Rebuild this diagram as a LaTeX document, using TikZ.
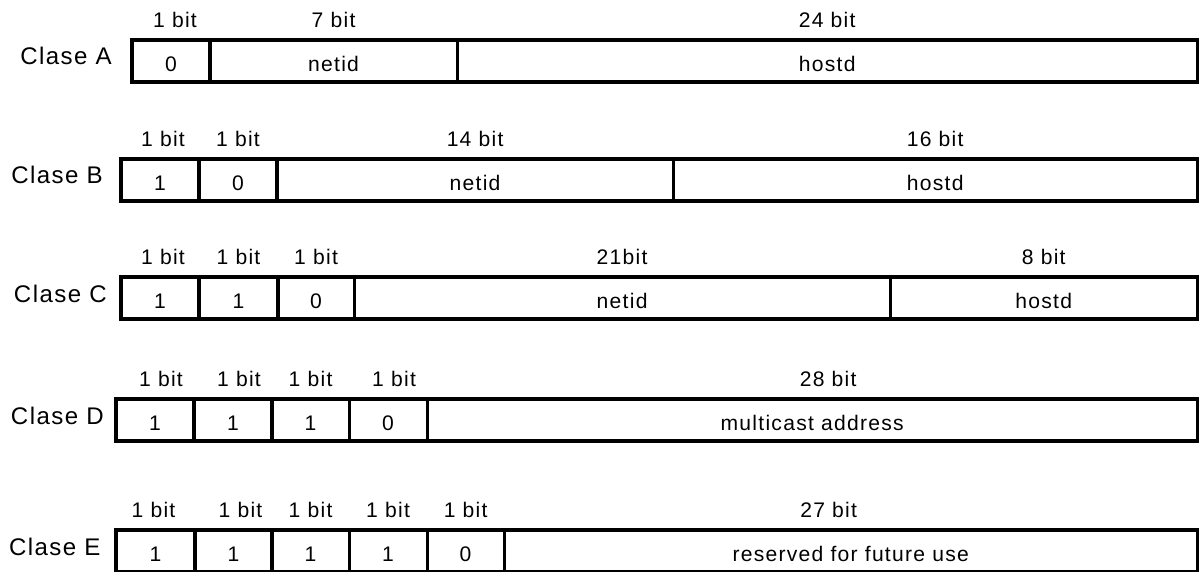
\documentclass[tikz,border=0pt]{standalone}
\usepackage{fontspec}
\setmainfont[LetterSpace=6]{Liberation Sans}
\usetikzlibrary{positioning}

\begin{document}
\begin{tikzpicture}[
    x=0.025cm, y=-0.025cm,
    node distance=0.3cm,
    field/.style={draw, line width=2.2pt, outer sep=0pt, inner sep=0pt,
      minimum height=1.05cm, text height=0.5cm, text depth=0pt,
      font=\fontsize{15}{18}\selectfont},
    bits/.style={inner sep=0pt, font=\fontsize{15}{18}\selectfont},
    clase/.style={inner sep=0pt, yshift=0.115cm, font=\fontsize{17.1}{20}\selectfont}
  ]
    \useasboundingbox (0,0) rectangle (1200,571);

    % Clase A
    \node[field, minimum width=1.95cm, anchor=north west] (a1) at (132,40) {0};
    \node[field, minimum width=6.175cm, right=0pt of a1] (a2) {netid};
    \node[field, minimum width=18.5cm, right=0pt of a2] (a3) {hostd};
    \node[clase, left=0.5cm of a1] (ca) {Clase A};
    \node[bits, above=of a1, xshift=0.1cm] (ba1) {1 bit};
    \node[bits, above=of a2] (ba2) {7 bit};
    \node[bits, above=of a3] (ba3) {24 bit};

    % Clase B
    \node[field, minimum width=1.95cm, anchor=north west] (b1) at (121,159) {1};
    \node[field, minimum width=1.95cm, right=0pt of b1] (b2) {0};
    \node[field, minimum width=9.9cm, right=0pt of b2] (b3) {netid};
    \node[field, minimum width=13.1cm, right=0pt of b3] (b4) {hostd};
    \node[clase, left=0.45cm of b1] (cb) {Clase B};
    \node[bits, above=of b1, xshift=0.075cm] (bb1) {1 bit};
    \node[bits, above=of b2] (bb2) {1 bit};
    \node[bits, above=of b3] (bb3) {14 bit};
    \node[bits, above=of b4] (bb4) {16 bit};

    % Clase C
    \node[field, minimum width=1.95cm, anchor=north west] (c1) at (121,277) {1};
    \node[field, minimum width=1.975cm, right=0pt of c1] (c2) {1};
    \node[field, minimum width=1.9cm, right=0pt of c2] (c3) {0};
    \node[field, minimum width=13.4cm, right=0pt of c3] (c4) {netid};
    \node[field, minimum width=7.675cm, right=0pt of c4] (c5) {hostd};
    \node[clase, left=0.35cm of c1] (cc) {Clase C};
    \node[bits, above=of c1, xshift=0.075cm] (bc1) {1 bit};
    \node[bits, above=of c2] (bc2) {1 bit};
    \node[bits, above=of c3] (bc3) {1 bit};
    \node[bits, above=of c4] (bc4) {21bit};
    \node[bits, above=of c5] (bc5) {8 bit};

    % Clase D
    \node[field, minimum width=1.95cm, anchor=north west] (d1) at (116,399) {1};
    \node[field, minimum width=1.95cm, right=0pt of d1] (d2) {1};
    \node[field, minimum width=1.925cm, right=0pt of d2] (d3) {1};
    \node[field, minimum width=1.95cm, right=0pt of d3] (d4) {0};
    \node[field, minimum width=19.25cm, right=0pt of d4] (d5) {multicast address};
    \node[clase, left=0.3cm of d1] (cd) {Clase D};
    \node[bits, above=of d1, xshift=0.15cm] (bd1) {1 bit};
    \node[bits, above=of d2, xshift=0.15cm] (bd2) {1 bit};
    \node[bits, above=of d3] (bd3) {1 bit};
    \node[bits, above=of d4, xshift=0.15cm] (bd4) {1 bit};
    \node[bits, above=of d5, xshift=0.4cm] (bd5) {28 bit};

    % Clase E
    \node[field, minimum width=1.975cm, anchor=north west] (e1) at (116,530) {1};
    \node[field, minimum width=1.925cm, right=0pt of e1] (e2) {1};
    \node[field, minimum width=1.925cm, right=0pt of e2] (e3) {1};
    \node[field, minimum width=1.95cm, right=0pt of e3] (e4) {1};
    \node[field, minimum width=1.925cm, right=0pt of e4] (e5) {0};
    \node[field, minimum width=17.325cm, right=0pt of e5] (e6) {reserved for future use};
    \node[clase, left=0.38cm of e1] (ce) {Clase E};
    \node[bits, above=of e1, xshift=-0.05cm] (be1) {1 bit};
    \node[bits, above=of e2, xshift=0.175cm] (be2) {1 bit};
    \node[bits, above=of e3] (be3) {1 bit};
    \node[bits, above=of e4] (be4) {1 bit};
    \node[bits, above=of e5] (be5) {1 bit};
    \node[bits, above=of e6, xshift=-0.55cm] (be6) {27 bit};
  \end{tikzpicture}
\end{document}
